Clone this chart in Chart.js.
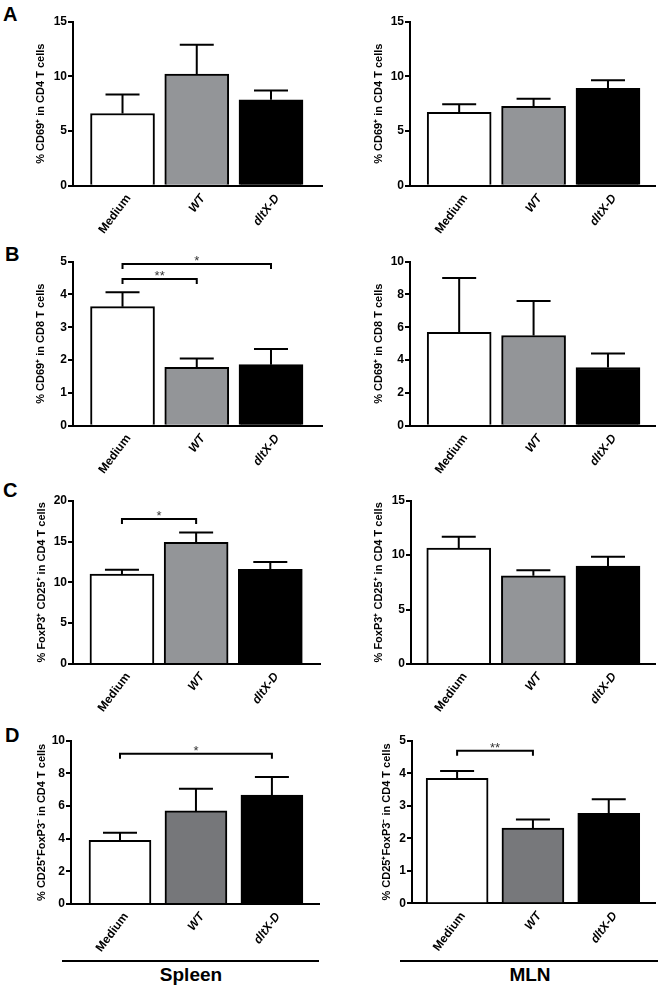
<!DOCTYPE html>
<html>
<head>
<meta charset="utf-8">
<script src="https://cdn.jsdelivr.net/npm/chart.js@4"></script>
<style>
  body { margin: 0; background: #fff; font-family: Arial, "Liberation Sans", sans-serif; }
  #fig { position: relative; width: 663px; height: 993px; }
  canvas { position: absolute; }
  .letter { position: absolute; font-size: 20px; line-height: 20px; font-weight: bold; color: #000; }
  .group { position: absolute; font-size: 19px; line-height: 19px; font-weight: bold; text-align: center; color: #000; }
  .rule { position: absolute; height: 0; border-top: 2px solid #000; }
</style>
</head>
<body>
<div id="fig">
  <div class="letter" style="left:3px;top:4px">A</div>
  <div class="letter" style="left:5px;top:244px">B</div>
  <div class="letter" style="left:3px;top:480px">C</div>
  <div class="letter" style="left:5px;top:725px">D</div>

  <div class="rule" style="left:62px;top:960px;width:257px"></div>
  <div class="rule" style="left:400px;top:960px;width:258px"></div>
  <div class="group" style="left:111px;top:965px;width:160px">Spleen</div>
  <div class="group" style="left:450px;top:965px;width:160px">MLN</div>
</div>

<script>
// --- Data ---
const categories = ["Medium", "WT", "dltX-D"];

// A: % CD69+ in CD4 T cells
const aSpleenMean = [6.6, 10.2, 7.85];
const aSpleenSem = [1.75, 2.7, 0.85];
const aMlnMean = [6.7, 7.25, 8.9];
const aMlnSem = [0.75, 0.7, 0.75];

// B: % CD69+ in CD8 T cells
const bSpleenMean = [3.63, 1.78, 1.86];
const bSpleenSem = [0.44, 0.27, 0.48];
const bMlnMean = [5.7, 5.5, 3.55];
const bMlnSem = [3.3, 2.1, 0.85];

// C: % FoxP3+ CD25+ in CD4 T cells
const cSpleenMean = [11.0, 14.9, 11.6];
const cSpleenSem = [0.55, 1.2, 0.9];
const cMlnMean = [10.65, 8.1, 9.0];
const cMlnSem = [1.05, 0.5, 0.85];

// D: % CD25+FoxP3- in CD4 T cells
const dSpleenMean = [3.9, 5.7, 6.67];
const dSpleenSem = [0.47, 1.35, 1.1];
const dMlnMean = [3.84, 2.31, 2.77];
const dMlnSem = [0.23, 0.27, 0.43];

// significance brackets: [from, to, y value, label]
const bSpleenSig = [[0, 1, 4.47, "**"], [0, 2, 4.93, "*"]];
const cSpleenSig = [[0, 1, 17.76, "*"]];
const dSpleenSig = [[0, 2, 9.2, "*"]];
const dMlnSig = [[0, 1, 4.69, "**"]];

const yTitleCD4 = "% CD69\u207A in CD4 T cells";
const yTitleCD8 = "% CD69\u207A in CD8 T cells";
const yTitleTreg = "% FoxP3\u207A CD25\u207A in CD4 T cells";
const yTitleD = "% CD25\u207AFoxP3\u207B in CD4 T cells";

const FONT = 'Arial, "Liberation Sans", sans-serif';

// --- error bars + brackets plugin ---
const errorBars = {
  id: "errorBars",
  afterDatasetsDraw(chart, args, opts) {
    const ctx = chart.ctx;
    const x = chart.scales.x, y = chart.scales.y;
    const ds = chart.data.datasets[0];
    ctx.save();
    ctx.strokeStyle = "#000";
    ctx.lineWidth = 2;
    ds.data.forEach((d, i) => {
      const px = x.getPixelForValue(d.x);
      const y0 = y.getPixelForValue(d.y);
      const y1 = y.getPixelForValue(d.y + opts.sem[i]);
      ctx.beginPath();
      ctx.moveTo(px, y0);
      ctx.lineTo(px, y1);
      ctx.moveTo(px - 17, y1);
      ctx.lineTo(px + 17, y1);
      ctx.stroke();
    });
    (opts.sig || []).forEach(b => {
      const x0 = x.getPixelForValue(b[0]);
      const x1 = x.getPixelForValue(b[1]);
      const yy = y.getPixelForValue(b[2]);
      ctx.beginPath();
      ctx.moveTo(x0, yy + 5);
      ctx.lineTo(x0, yy);
      ctx.lineTo(x1, yy);
      ctx.lineTo(x1, yy + 5);
      ctx.stroke();
      ctx.fillStyle = "#333";
      ctx.font = "13px " + FONT;
      ctx.textAlign = "center";
      ctx.textBaseline = "alphabetic";
      ctx.fillText(b[3], (x0 + x1) / 2, yy + 1);
    });
    ctx.restore();
  }
};

function makePanel(p) {
  const canvas = document.createElement("canvas");
  canvas.width = p.w;
  canvas.height = 260;
  canvas.style.left = p.left + "px";
  canvas.style.top = p.top + "px";
  document.getElementById("fig").appendChild(canvas);

  new Chart(canvas.getContext("2d"), {
    type: "bar",
    data: {
      datasets: [{
        data: p.mean.map((v, i) => ({ x: i, y: v })),
        backgroundColor: ["#ffffff", p.wt, "#000000"],
        borderColor: "#000",
        borderWidth: 2,
        barThickness: p.barW
      }]
    },
    options: {
      responsive: false,
      animation: false,
      devicePixelRatio: 1,
      layout: { padding: { left: 0, top: p.T, right: p.w - p.R, bottom: 0 } },
      plugins: {
        legend: { display: false },
        tooltip: { enabled: false },
        errorBars: { sem: p.sem, sig: p.sig }
      },
      scales: {
        x: {
          type: "linear",
          offset: false,
          min: p.xmin,
          max: p.xmax,
          afterBuildTicks: s => { s.ticks = categories.map((c, i) => ({ value: i })); },
          afterFit: s => { s.height = 260 - p.B; },
          grid: { display: false, drawTicks: false, offset: false },
          border: { display: true, color: "#000", width: 2 },
          ticks: {
            autoSkip: false,
            minRotation: 53,
            maxRotation: 53,
            padding: 6,
            labelOffset: 6,
            color: "#000",
            font: c => ({ family: FONT, size: 12, weight: "bold", style: c.index === 0 ? "normal" : "italic" }),
            callback: v => categories[v]
          }
        },
        y: {
          min: 0,
          max: p.max,
          afterFit: s => { s.width = p.L; },
          grid: { display: true, drawOnChartArea: false, drawTicks: true, tickLength: 5, color: "#000", lineWidth: 2 },
          border: { display: true, color: "#000", width: 2 },
          ticks: {
            stepSize: p.step,
            padding: 1,
            color: "#000",
            font: { family: FONT, size: 12, weight: "bold" }
          },
          title: {
            display: true,
            text: p.title,
            color: "#000",
            padding: { top: p.titlePad, bottom: 0 },
            font: { family: FONT, size: 11, weight: "bold" }
          }
        }
      }
    },
    plugins: [errorBars]
  });
}

const GRAY = "#939598";

makePanel({ left: 0, top: 0, w: 330, L: 73, R: 322, T: 21.7, B: 185.7, xmin: -0.667, xmax: 2.687, barW: 64,
  max: 15, step: 5, title: yTitleCD4, titlePad: 34, mean: aSpleenMean, sem: aSpleenSem, wt: GRAY });
makePanel({ left: 330, top: 0, w: 333, L: 80, R: 325, T: 21.7, B: 185.7, xmin: -0.661, xmax: 2.632, barW: 64,
  max: 15, step: 5, title: yTitleCD4, titlePad: 42, mean: aMlnMean, sem: aMlnSem, wt: GRAY });

makePanel({ left: 0, top: 240, w: 330, L: 73, R: 322, T: 21.7, B: 185.7, xmin: -0.667, xmax: 2.687, barW: 64,
  max: 5, step: 1, title: yTitleCD8, titlePad: 34, mean: bSpleenMean, sem: bSpleenSem, wt: GRAY, sig: bSpleenSig });
makePanel({ left: 330, top: 240, w: 333, L: 80, R: 325, T: 21.7, B: 185.7, xmin: -0.661, xmax: 2.632, barW: 64,
  max: 10, step: 2, title: yTitleCD8, titlePad: 42, mean: bMlnMean, sem: bMlnSem, wt: GRAY });

makePanel({ left: 0, top: 480, w: 330, L: 73, R: 320, T: 20.7, B: 184, xmin: -0.66, xmax: 2.67, barW: 64,
  max: 20, step: 5, title: yTitleTreg, titlePad: 35, mean: cSpleenMean, sem: cSpleenSem, wt: GRAY, sig: cSpleenSig });
makePanel({ left: 330, top: 480, w: 333, L: 81, R: 325, T: 20.7, B: 184, xmin: -0.64, xmax: 2.63, barW: 64,
  max: 15, step: 5, title: yTitleTreg, titlePad: 42, mean: cMlnMean, sem: cMlnSem, wt: GRAY });

makePanel({ left: 0, top: 710, w: 330, L: 71, R: 319, T: 30.7, B: 194, xmin: -0.645, xmax: 2.62, barW: 62,
  max: 10, step: 2, title: yTitleD, titlePad: 35, mean: dSpleenMean, sem: dSpleenSem, wt: "#76777a", sig: dSpleenSig });
makePanel({ left: 330, top: 710, w: 333, L: 82, R: 325, T: 30.7, B: 193.3, xmin: -0.595, xmax: 2.61, barW: 62,
  max: 5, step: 1, title: yTitleD, titlePad: 50, mean: dMlnMean, sem: dMlnSem, wt: "#77787b", sig: dMlnSig });
</script>
</body>
</html>
